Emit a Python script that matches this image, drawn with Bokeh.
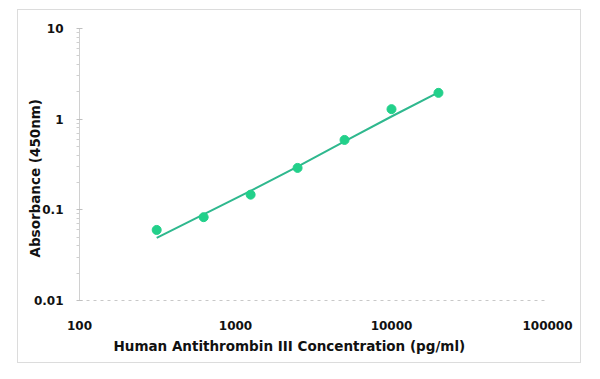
from bokeh.plotting import figure
from bokeh.models import FixedTicker, Range1d, Title
from bokeh.embed import file_html
from bokeh.resources import INLINE

# Data
concentration = [312.5, 625, 1250, 2500, 5000, 10000, 20000]
absorbance = [0.060, 0.083, 0.147, 0.29, 0.59, 1.29, 1.95]
fit_concentration = [312.5, 625, 1250, 2500, 5000, 10000, 20000]
fit_absorbance = [0.049, 0.089, 0.162, 0.30, 0.57, 1.07, 1.98]

x_ticks = [100, 1000, 10000, 100000]
x_tick_labels = ["100", "1000", "10000", "100000"]
y_ticks = [0.01, 0.1, 1, 10]
y_tick_labels = ["0.01", "0.1", "1", "10"]
y_minor = [m * d for d in [0.01, 0.1, 1] for m in range(2, 10)]

x_title = "Human Antithrombin III Concentration (pg/ml)"
y_title = "Absorbance (450nm)"

FONT = "DejaVu Sans"

p = figure(width=564, height=354, x_axis_type="log", y_axis_type="log",
           x_range=Range1d(100, 100000), y_range=Range1d(0.01, 10),
           output_backend="svg", toolbar_location=None,
           min_border_left=61, min_border_right=35, min_border_top=18,
           min_border_bottom=64)
p.styles = {"border": "1px solid #dcdcdc", "margin-left": "17px", "margin-top": "9px"}
p.outline_line_color = None
p.grid.visible = False

# fitted curve and points
p.line(fit_concentration, fit_absorbance, line_color="#2fb88e", line_width=2)
p.scatter(concentration, absorbance, size=9, fill_color="#22d08a",
          line_color="#22d08a")

# axes
p.xaxis.ticker = FixedTicker(ticks=x_ticks, minor_ticks=[])
p.xaxis.major_label_overrides = {t: l for t, l in zip(x_ticks, x_tick_labels)}
p.yaxis.ticker = FixedTicker(ticks=y_ticks, minor_ticks=y_minor)
p.yaxis.major_label_overrides = {t: l for t, l in zip(y_ticks, y_tick_labels)}

for ax in (p.xaxis, p.yaxis):
    ax.major_label_text_font = FONT
    ax.major_label_text_font_style = "bold"
    ax.major_label_text_font_size = "12px"
    ax.major_label_text_color = "#111111"

p.xaxis.axis_line_color = "#c8c8c8"
p.xaxis.axis_line_dash = "3 4"
p.xaxis.major_tick_line_color = None
p.xaxis.minor_tick_line_color = None
p.xaxis.major_label_standoff = 14

p.yaxis.axis_line_color = "#d0d0d0"
p.yaxis.major_tick_line_color = "#c0c0c0"
p.yaxis.major_tick_in = 3
p.yaxis.major_tick_out = 3
p.yaxis.minor_tick_line_color = "#d0d0d0"
p.yaxis.minor_tick_in = 0
p.yaxis.minor_tick_out = 3
p.yaxis.major_label_standoff = 13

# axis titles, offset from the frame centre as in the reference
p.add_layout(Title(text=x_title, align="left", offset=34, standoff=7,
                   text_font=FONT, text_font_style="bold",
                   text_font_size="13.5px", text_color="#111111"), "below")
p.add_layout(Title(text=y_title, align="left", offset=43, standoff=-25,
                   text_font=FONT, text_font_style="bold",
                   text_font_size="13.5px", text_color="#111111"), "left")

open("out.html", "w").write(file_html(p, INLINE))
